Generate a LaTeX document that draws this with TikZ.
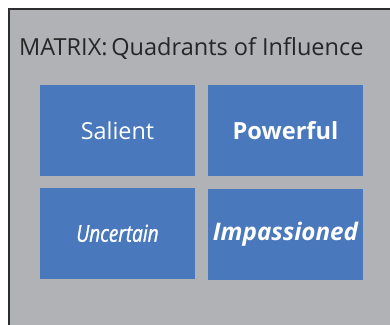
\documentclass[tikz,border=0pt]{standalone}
\usepackage{fontspec}
\setmainfont{Open Sans}
\newfontface\narrowit[FakeStretch=0.82,FakeBold=1.2]{Open Sans Italic}
\definecolor{framegray}{HTML}{B1B2B6}
\definecolor{quadblue}{HTML}{4A78BD}
\definecolor{edgedark}{HTML}{2E2E2E}
\begin{document}
\begin{tikzpicture}[x=1pt, y=-1pt,
        quad/.style={rectangle, fill=quadblue, minimum width=155pt, minimum height=91pt, inner sep=0pt, text=white, font=\fontsize{23.4}{28}\selectfont}
    ]
        \useasboundingbox (0,0) rectangle (390,324);
        \clip (0,0) rectangle (390,324);

        % Frame
        \draw[edgedark, fill=framegray, line width=2.5pt] (9,9) rectangle (420,360);
        \node[anchor=base west, inner sep=0pt, text=black!85, font=\fontsize{23.5}{28}\selectfont] (title) at (19,55) {MATRIX:\,Quadrants of Influence};

        % Quadrants
        \node[quad] (salient) at (117.5,130.3) {Salient};
        \node[quad, font=\fontsize{23.6}{28}\selectfont\bfseries] (powerful) at (285.5,130.3) {Powerful};
        \node[quad, font=\fontsize{23.2}{28}\selectfont] (uncertain) at (117.5,233.3) {\narrowit Uncertain};
        \node[quad, font=\fontsize{24.2}{28}\selectfont\bfseries\itshape] (impassioned) at (285.5,234.3) {Impassioned};
    \end{tikzpicture}
\end{document}
